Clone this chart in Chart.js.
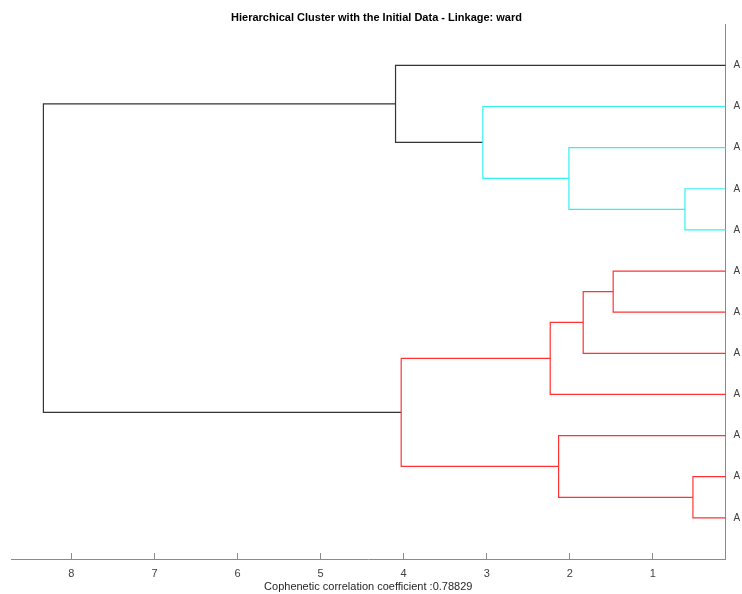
<!DOCTYPE html>
<html lang="en">
<head>
    <meta charset="UTF-8">
    <title>Hierarchical Cluster | Dendrogram</title>
    <script src="https://cdn.jsdelivr.net/npm/chart.js"></script>
    <style>
        body { margin: 0; background: #fff; }
        #wrap { width: 742px; height: 594px; }
    </style>
</head>
<body>
    <div id="wrap"><canvas id="dendro"></canvas></div>

    <script>
        // leaf labels, top to bottom (leaf i sits at y = i)
        const leafLabels = ['A', 'A', 'A', 'A', 'A', 'A', 'A', 'A', 'A', 'A', 'A', 'A'];

        // linkage: cluster 13 is the first merge, 14 the second, ...
        const mergeLeft = [11, 4, 6, 15, 3, 10, 16, 2, 19, 1, 22];
        const mergeRight = [12, 5, 7, 8, 14, 13, 9, 17, 18, 20, 21];
        const mergeHeight = [0.518, 0.614, 1.478, 1.839, 2.011, 2.135, 2.236, 3.047, 4.030, 4.098, 8.337];
        const mergeGroup = ['red', 'cyan', 'red', 'red', 'cyan', 'red', 'red', 'cyan', 'red', 'black', 'black'];

        const xTicks = [1, 2, 3, 4, 5, 6, 7, 8];
        const cophenetic = 0.78829;

        const groupColors = { red: '#ff3333', cyan: '#33f0f0', black: '#333333' };
        const fontFamily = "'Liberation Sans', Arial, sans-serif";

        // positions of every node (leaves + merged clusters)
        const nLeaves = leafLabels.length;
        const nodeY = {};
        const nodeH = {};
        for (let i = 1; i <= nLeaves; i++) {
            nodeY[i] = i;
            nodeH[i] = 0;
        }

        const datasets = [];
        mergeLeft.forEach((a, k) => {
            const b = mergeRight[k];
            const id = nLeaves + 1 + k;
            const h = mergeHeight[k];
            nodeY[id] = (nodeY[a] + nodeY[b]) / 2;
            nodeH[id] = h;
            datasets.push({
                data: [
                    { x: nodeH[a], y: nodeY[a] },
                    { x: h, y: nodeY[a] },
                    { x: h, y: nodeY[b] },
                    { x: nodeH[b], y: nodeY[b] }
                ],
                showLine: true,
                borderColor: groupColors[mergeGroup[k]],
                borderWidth: 1.2,
                pointRadius: 0,
                tension: 0
            });
        });

        new Chart(document.getElementById('dendro'), {
            type: 'scatter',
            data: { datasets: datasets },
            options: {
                responsive: true,
                maintainAspectRatio: false,
                animation: false,
                layout: { padding: { left: 11, right: 0, top: 0, bottom: 0 } },
                plugins: {
                    legend: { display: false },
                    tooltip: { enabled: false },
                    title: {
                        display: true,
                        text: 'Hierarchical Cluster with the Initial Data - Linkage: ward',
                        color: '#000',
                        font: { family: fontFamily, size: 11, weight: 'bold' },
                        padding: { top: 11, bottom: 0 }
                    }
                },
                scales: {
                    x: {
                        type: 'linear',
                        reverse: true,
                        min: 0.126,
                        max: 8.727,
                        afterBuildTicks: scale => {
                            scale.ticks = xTicks.map(v => ({ value: v }));
                        },
                        afterFit: scale => { scale.height = 35; },
                        border: { display: true, color: '#8a8a8a', width: 1 },
                        grid: {
                            drawOnChartArea: false,
                            drawTicks: true,
                            tickLength: -6,
                            color: '#8a8a8a'
                        },
                        ticks: {
                            color: '#404040',
                            padding: 14.4,
                            maxRotation: 0,
                            font: { family: fontFamily, size: 11 }
                        },
                        title: {
                            display: true,
                            text: 'Cophenetic correlation coefficient :' + cophenetic,
                            color: '#262626',
                            font: { family: fontFamily, size: 11 },
                            padding: { top: 0, bottom: 0 }
                        }
                    },
                    y: {
                        type: 'linear',
                        position: 'right',
                        reverse: true,
                        min: 0,
                        max: nLeaves + 1,
                        afterBuildTicks: scale => {
                            scale.ticks = leafLabels.map((l, i) => ({ value: i + 1 }));
                        },
                        afterFit: scale => { scale.width = 16.5; },
                        border: { display: true, color: '#8a8a8a', width: 1 },
                        grid: { drawOnChartArea: false, drawTicks: false },
                        ticks: {
                            autoSkip: false,
                            color: '#404040',
                            padding: 8,
                            font: { family: fontFamily, size: 10 },
                            callback: v => leafLabels[v - 1]
                        }
                    }
                }
            }
        });
    </script>
</body>
</html>
